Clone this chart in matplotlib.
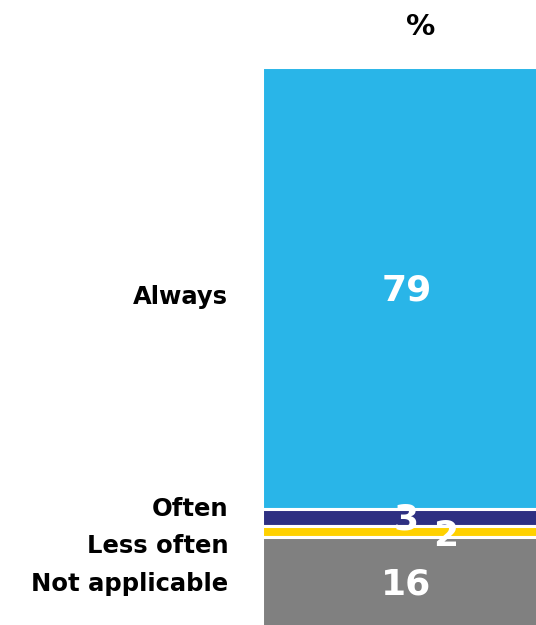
import matplotlib.pyplot as plt
import numpy as np

categories = ["Always", "Often", "Less often", "Not applicable"]
values = [79, 3, 2, 16]
colors = ["#29B5E8", "#2E3082", "#FFD100", "#808080"]

# label nudges (points) so the small segments don't collide
cat_offsets = [-6.5, 6, -10.5, -1.5]
val_offsets = [(0, -1.5), (0, -1.5), (28, -3), (0, -1.5)]

fig = plt.figure(figsize=(5.36, 6.25), dpi=100)
ax = fig.add_axes([261.5 / 536, -2 / 625, 290 / 536, 560 / 625])

# stack from the top down
bottoms = 100 - np.cumsum(values)
ax.bar([0] * len(values), values, bottom=bottoms, width=1.0, color=colors,
       edgecolor="white", linewidth=2.2)
ax.set_xlim(-0.5, 0.5)
ax.set_ylim(0, 100)
ax.axis("off")

for i, (cat, v, b) in enumerate(zip(categories, values, bottoms)):
    mid = b + v / 2
    ax.annotate(cat, xy=(-0.5, mid), xytext=(-24, cat_offsets[i]),
                textcoords="offset points", ha="right", va="center",
                fontsize=17.5, fontweight="bold", color="black",
                annotation_clip=False)
    dx, dy = val_offsets[i]
    ax.annotate(str(v), xy=(0, mid), xytext=(dx, dy), textcoords="offset points",
                ha="center", va="center", fontsize=26, fontweight="bold",
                color="white")

fig.text(421 / 536, 1 - 27 / 625, "%", ha="center", va="center",
         fontsize=21, fontweight="bold")

fig.savefig("out.png", dpi=100)
